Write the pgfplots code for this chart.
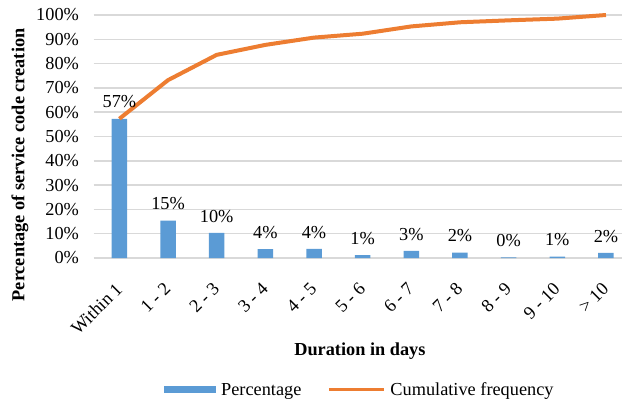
\documentclass[border=0pt]{standalone}
\usepackage{fontspec}
\setmainfont{Liberation Serif}
\usepackage{pgfplots}
\usepackage{pgfplotstable}
\pgfplotsset{compat=1.18}

\definecolor{barblue}{HTML}{5B9BD5}
\definecolor{cumorange}{HTML}{ED7D31}
\definecolor{gridgray}{HTML}{D9D9D9}

% share of service code creations per duration bin, and running total
\pgfplotstableread{
idx pct cum
0 57.3 57.3
1 15.4 73.2
2 10.3 83.6
3 3.7 87.7
4 3.8 90.7
5 1.2 92.3
6 2.9 95.3
7 2.2 97.0
8 0.3 97.8
9 0.6 98.5
10 2.1 100.0
}\durationdata

\begin{document}
\begin{tikzpicture}
\begin{axis}[
  at={(93.6bp,143bp)}, anchor=south west,
  scale only axis, width=528.4bp, height=243bp,
  xmin=-0.53, xmax=10.33, ymin=0, ymax=100,
  clip=false,
  axis line style={draw=none},
  tick style={draw=none}, major tick length=0pt,
  font=\fontsize{18.3bp}{22bp}\selectfont,
  /pgf/number format/assume math mode=true,
  ymajorgrids, grid style={gridgray, line width=1.5bp},
  ytick={0,10,...,100},
  yticklabels={0\%,10\%,20\%,30\%,40\%,50\%,60\%,70\%,80\%,90\%,100\%},
  yticklabel style={anchor=east, inner sep=0pt, xshift=-14.5bp},
  xtick={0,...,10},
  xticklabels={Within 1,1 - 2,2 - 3,3 - 4,4 - 5,5 - 6,6 - 7,7 - 8,8 - 9,9 - 10,\textgreater{} 10},
  xticklabel style={rotate=45, anchor=north east, inner sep=0pt, yshift=-13bp, xshift=-20bp},
  xlabel={\bfseries Duration in days},
  xlabel style={at={(axis description cs:0.504,-0.383)}, anchor=center},
  ylabel={\bfseries Percentage of service code creation},
  ylabel style={at={(axis description cs:-0.1393,0.383)}, anchor=center, rotate=0},
  legend columns=2,
  legend cell align=left,
  legend style={at={(axis description cs:0.1332,-0.543)}, anchor=west,
    draw=none, fill=none, inner sep=0pt,
    /tikz/every odd column/.append style={column sep=3bp},
    /tikz/every even column/.append style={column sep=24bp}},
]
\addplot[ybar, bar width=15.5bp, fill=barblue, draw=none,
  nodes near coords={\pgfmathprintnumber[fixed,precision=0]{\pgfplotspointmeta}\%},
  nodes near coords style={anchor=south, yshift=7bp, text=black},
  legend image code/.code={\fill[barblue] (0bp,-3.5bp) rectangle (52bp,3.5bp);}]
  table[x=idx, y=pct] {\durationdata};
\addlegendentry{Percentage}
\addplot[cumorange, line width=4bp, line join=round, mark=none,
  legend image code/.code={\draw[cumorange, line width=3bp] (0bp,0bp) -- (55bp,0bp);}]
  table[x=idx, y=cum] {\durationdata};
\addlegendentry{Cumulative frequency}
\end{axis}
\pgfresetboundingbox
\useasboundingbox (0,0) rectangle (622bp,401bp);
\end{tikzpicture}
\end{document}
